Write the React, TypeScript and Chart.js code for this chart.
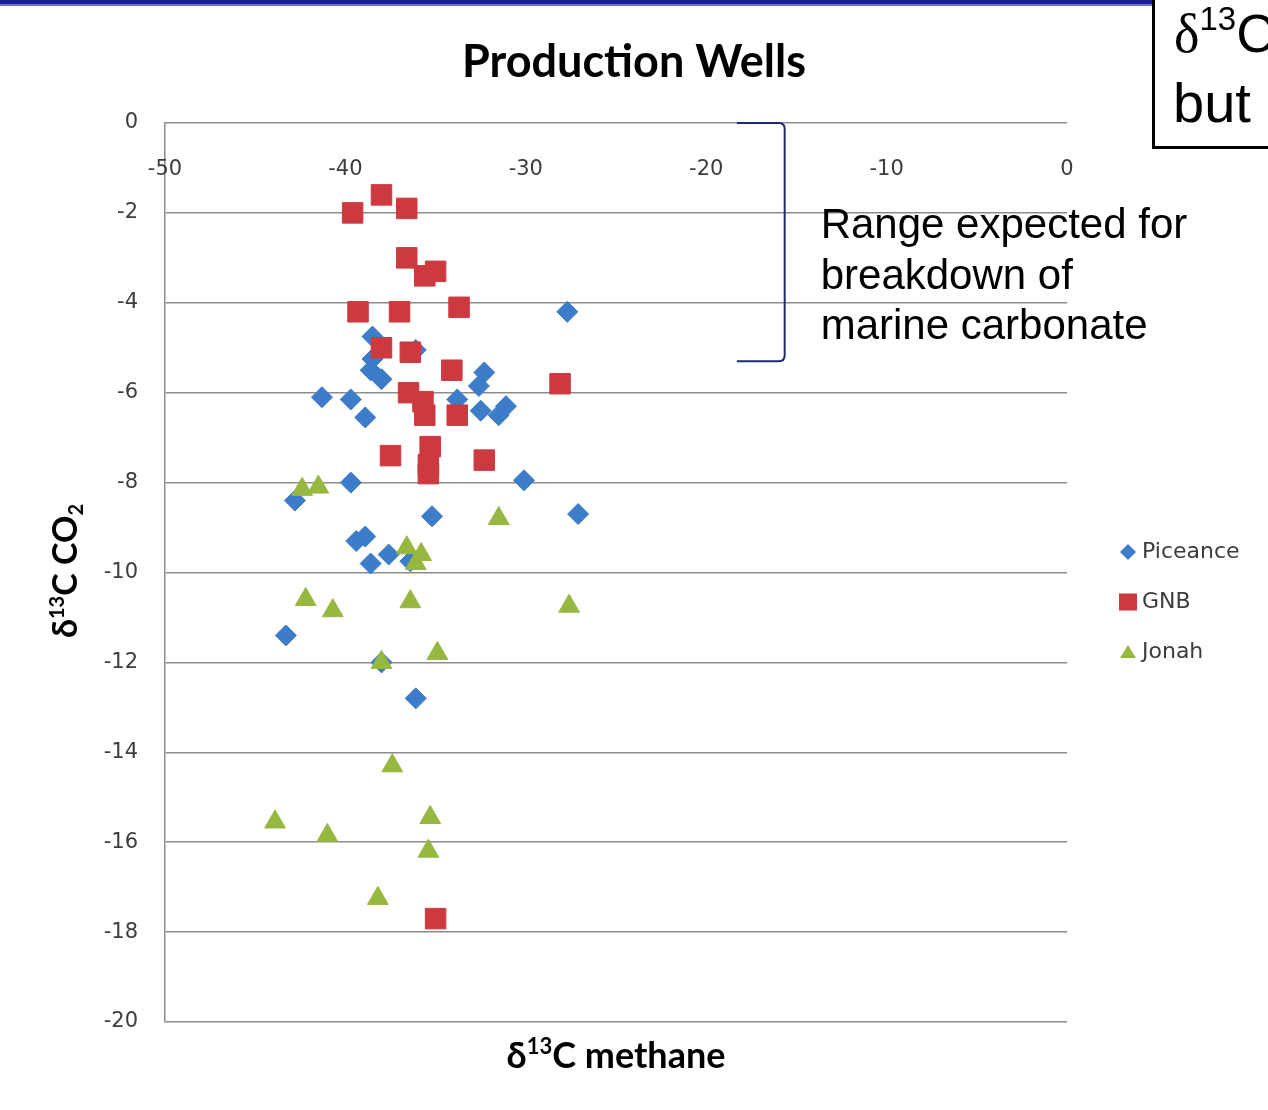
import React, { useEffect, useRef } from "react";
import { Chart, registerables } from "chart.js";

Chart.register(...registerables);

// ---------- data ----------
const seriesNames = ["Piceance", "GNB", "Jonah"];

const piceanceX = [-27.7, -38.5, -36.1, -38.5, -38.6, -38.0, -32.3, -32.6, -41.3, -39.7, -38.9, -33.8, -32.5, -31.5, -31.1, -39.7, -42.8, -35.2, -30.1, -27.1, -39.4, -38.9, -37.6, -38.6, -36.4, -43.3, -38.0, -36.1];
const piceanceY = [-4.2, -4.75, -5.05, -5.25, -5.5, -5.7, -5.55, -5.85, -6.1, -6.15, -6.55, -6.15, -6.4, -6.5, -6.3, -8.0, -8.4, -8.75, -7.95, -8.7, -9.3, -9.2, -9.6, -9.8, -9.75, -11.4, -12.0, -12.8];

const gnbX = [-39.6, -38.0, -36.6, -36.6, -35.6, -35.0, -39.3, -37.0, -33.7, -38.0, -36.4, -34.1, -28.1, -36.5, -35.7, -35.6, -33.8, -37.5, -35.3, -35.4, -35.4, -32.3, -35.0];
const gnbY = [-2.0, -1.6, -1.9, -3.0, -3.4, -3.3, -4.2, -4.2, -4.1, -5.0, -5.1, -5.5, -5.8, -6.0, -6.2, -6.5, -6.5, -7.4, -7.2, -7.6, -7.8, -7.5, -17.7];

const jonahX = [-42.4, -41.5, -31.5, -36.6, -35.8, -36.1, -42.2, -40.7, -36.4, -27.6, -38.0, -34.9, -37.4, -43.9, -41.0, -35.3, -35.4, -38.2];
const jonahY = [-8.15, -8.1, -8.8, -9.45, -9.6, -9.8, -10.6, -10.85, -10.65, -10.75, -12.0, -11.8, -14.3, -15.55, -15.85, -15.45, -16.2, -17.25];

const xTickValues = [-50, -40, -30, -20, -10, 0];
const xRange = [-50, 0];
const yRange = [-20, 0];
const yStep = 2;

const chartTitle = "Production Wells";
const xTitleParts = ["δ", "13", "C methane"];
const yTitleParts = ["δ", "13", "C CO", "2"];
const noteLines = ["Range expected for", "breakdown of", "marine carbonate"];
const bracketX = [-18.3, -15.65];
const bracketY = [0, -5.3];
const boxLines = [["δ", "13", "C"], ["but"]];

// ---------- styles ----------
const COLORS = ["#3d7cc9", "#cc3a40", "#97b840"];
const STYLES = ["rectRot", "rect", "triangle"];
const RADII = [10.5, 14.5, 12];
const SANS = "Lato, 'DejaVu Sans', sans-serif";
const TICK_FONT = "'DejaVu Sans', sans-serif";
const TICK_COLOR = "#3c3c3c";
const GRID = "#8c8c8c";

const toPts = (xs: number[], ys: number[]) => xs.map((x, i) => ({ x, y: ys[i] }));

type Part = { t: string; size: number; dy?: number; family?: string; weight?: string };

function drawRich(ctx: CanvasRenderingContext2D, parts: Part[], x: number, y: number, align: "left" | "center", color: string) {
  let total = 0;
  const widths = parts.map((p) => {
    ctx.font = `${p.weight ?? "bold"} ${p.size}px ${p.family ?? SANS}`;
    const w = ctx.measureText(p.t).width;
    total += w;
    return w;
  });
  let cx = align === "center" ? x - total / 2 : x;
  ctx.textAlign = "left";
  ctx.textBaseline = "alphabetic";
  ctx.fillStyle = color;
  parts.forEach((p, i) => {
    ctx.font = `${p.weight ?? "bold"} ${p.size}px ${p.family ?? SANS}`;
    ctx.fillText(p.t, cx, y + (p.dy ?? 0));
    cx += widths[i];
  });
}

const overlayPlugin = {
  id: "overlay",
  beforeDraw(chart: any) {
    const ctx = chart.ctx as CanvasRenderingContext2D;
    ctx.save();
    ctx.fillStyle = "#ffffff";
    ctx.fillRect(0, 0, chart.width, chart.height);
    ctx.restore();
  },
  afterDraw(chart: any) {
    const ctx = chart.ctx as CanvasRenderingContext2D;
    const xs = chart.scales.x;
    const ys = chart.scales.y;
    const area = chart.chartArea;
    ctx.save();

    // top band
    ctx.fillStyle = "#1e1e96";
    ctx.fillRect(0, 0, chart.width, 4);
    ctx.fillStyle = "#7070c4";
    ctx.fillRect(0, 4, chart.width, 2);

    // title
    ctx.font = `bold 45px ${SANS}`;
    ctx.fillStyle = "#000";
    ctx.textAlign = "center";
    ctx.textBaseline = "alphabetic";
    ctx.fillText(chartTitle, chart.width / 2, 77);

    // x tick labels (below the axis line at y = 0)
    ctx.font = `21px ${TICK_FONT}`;
    ctx.fillStyle = TICK_COLOR;
    ctx.textAlign = "center";
    ctx.textBaseline = "middle";
    const y0 = ys.getPixelForValue(0);
    xTickValues.forEach((v) => {
      ctx.fillText(String(v), xs.getPixelForValue(v), y0 + 47);
    });

    // bracket annotation
    const bx0 = xs.getPixelForValue(bracketX[0]);
    const bx1 = xs.getPixelForValue(bracketX[1]);
    const by0 = ys.getPixelForValue(bracketY[0]);
    const by1 = ys.getPixelForValue(bracketY[1]);
    ctx.strokeStyle = "#1f2a6e";
    ctx.lineWidth = 2;
    ctx.beginPath();
    ctx.moveTo(bx0, by0);
    ctx.lineTo(bx1 - 6, by0);
    ctx.quadraticCurveTo(bx1, by0, bx1, by0 + 6);
    ctx.lineTo(bx1, by1 - 6);
    ctx.quadraticCurveTo(bx1, by1, bx1 - 6, by1);
    ctx.lineTo(bx0, by1);
    ctx.stroke();

    ctx.font = `42px 'Liberation Sans', Arial, sans-serif`;
    ctx.fillStyle = "#000";
    ctx.textAlign = "left";
    ctx.textBaseline = "alphabetic";
    noteLines.forEach((line, i) => {
      ctx.fillText(line, bx1 + 36, 238 + i * 50.5);
    });

    // legend
    const lx = 1128;
    const rows = [552, 602, 652];
    rows.forEach((ry, i) => {
      ctx.fillStyle = COLORS[i];
      ctx.beginPath();
      if (i === 0) {
        ctx.moveTo(lx, ry - 8);
        ctx.lineTo(lx + 8, ry);
        ctx.lineTo(lx, ry + 8);
        ctx.lineTo(lx - 8, ry);
      } else if (i === 1) {
        ctx.rect(lx - 9, ry - 8.5, 18, 17);
      } else {
        ctx.moveTo(lx, ry - 7);
        ctx.lineTo(lx + 8, ry + 6);
        ctx.lineTo(lx - 8, ry + 6);
      }
      ctx.closePath();
      ctx.fill();
      ctx.font = `22px ${TICK_FONT}`;
      ctx.fillStyle = TICK_COLOR;
      ctx.textAlign = "left";
      ctx.textBaseline = "middle";
      ctx.fillText(seriesNames[i], lx + 14, ry);
    });

    // x axis title
    drawRich(
      ctx,
      [
        { t: xTitleParts[0], size: 36 },
        { t: xTitleParts[1], size: 22, dy: -14 },
        { t: xTitleParts[2], size: 36 },
      ],
      (area.left + area.right) / 2,
      1068,
      "center",
      "#000"
    );

    // y axis title (rotated)
    ctx.save();
    ctx.translate(77, 571);
    ctx.rotate(-Math.PI / 2);
    drawRich(
      ctx,
      [
        { t: yTitleParts[0], size: 34 },
        { t: yTitleParts[1], size: 20, dy: -13 },
        { t: yTitleParts[2], size: 34 },
        { t: yTitleParts[3], size: 20, dy: 6 },
      ],
      0,
      0,
      "center",
      "#000"
    );
    ctx.restore();

    // top-right slide box
    ctx.fillStyle = "#fff";
    ctx.fillRect(1153, 0, 200, 147);
    ctx.strokeStyle = "#000";
    ctx.lineWidth = 3;
    ctx.beginPath();
    ctx.moveTo(1153.5, -5);
    ctx.lineTo(1153.5, 147.5);
    ctx.lineTo(1300, 147.5);
    ctx.stroke();
    drawRich(
      ctx,
      [
        { t: boxLines[0][0], size: 54, family: "'Liberation Serif', serif", weight: "normal" },
        { t: boxLines[0][1], size: 33, dy: -22, family: "'Liberation Sans', Arial, sans-serif", weight: "normal" },
        { t: boxLines[0][2], size: 54, family: "'Liberation Sans', Arial, sans-serif", weight: "normal" },
      ],
      1174,
      52,
      "left",
      "#000"
    );
    drawRich(
      ctx,
      [{ t: boxLines[1][0], size: 56, family: "'Liberation Sans', Arial, sans-serif", weight: "normal" }],
      1173,
      122,
      "left",
      "#000"
    );

    ctx.restore();
  },
};

export default function App() {
  const canvasRef = useRef<HTMLCanvasElement | null>(null);

  useEffect(() => {
    if (!canvasRef.current) return;
    const series = [toPts(piceanceX, piceanceY), toPts(gnbX, gnbY), toPts(jonahX, jonahY)];
    const chart = new Chart(canvasRef.current, {
      type: "scatter",
      data: {
        datasets: series.map((data, i) => ({
          label: seriesNames[i],
          data,
          pointStyle: STYLES[i] as any,
          pointRadius: RADII[i],
          pointHoverRadius: RADII[i],
          backgroundColor: COLORS[i],
          borderColor: COLORS[i],
          borderWidth: 1,
          order: 3 - i,
        })),
      },
      options: {
        responsive: false,
        animation: false,
        devicePixelRatio: 1,
        layout: { padding: { top: 123, left: 0, right: 201, bottom: 88 } },
        plugins: {
          legend: { display: false },
          title: { display: false },
          tooltip: { enabled: false },
        },
        scales: {
          x: {
            type: "linear",
            min: xRange[0],
            max: xRange[1],
            display: false,
          },
          y: {
            type: "linear",
            min: yRange[0],
            max: yRange[1],
            afterFit: (scale: any) => {
              scale.width = 165;
            },
            ticks: {
              stepSize: yStep,
              padding: 27,
              color: TICK_COLOR,
              font: { family: TICK_FONT, size: 21 },
            },
            grid: { color: GRID, lineWidth: 1.5, drawTicks: false },
            border: { display: true, color: GRID, width: 1.5 },
          },
        },
      },
      plugins: [overlayPlugin],
    });
    return () => chart.destroy();
  }, []);

  return (
    <div style={{ position: "absolute", left: 0, top: 0, width: 1268, height: 1110, background: "#fff" }}>
      <canvas ref={canvasRef} width={1268} height={1110} style={{ display: "block" }} />
    </div>
  );
}
